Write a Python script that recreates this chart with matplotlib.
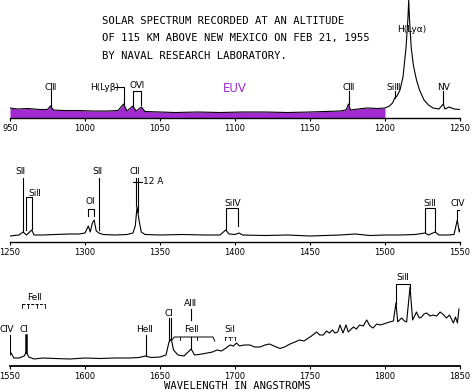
import numpy as np
import matplotlib.pyplot as plt

W, H = 472, 392

# ---- spectrum data (intensity in arbitrary units) ----
wl1 = [950, 955, 962, 970, 975, 977, 979, 985, 995, 1005,
       1015, 1022, 1025.7, 1028, 1031.9, 1034, 1037.6, 1040, 1050, 1060,
       1075, 1090, 1105, 1120, 1135, 1150, 1160, 1170, 1174, 1175.7,
       1177, 1182, 1188, 1195, 1200, 1203, 1205, 1206.5, 1208, 1210,
       1212, 1214, 1215.3, 1215.8, 1216.3, 1217.5, 1219, 1221, 1223, 1226,
       1229, 1232, 1236, 1238.8, 1240, 1242.8, 1246, 1250]
fl1 = [10, 9, 9.5, 8.5, 8.5, 12, 8, 7.5, 7.5, 7,
       7, 7.5, 14, 7, 12, 7, 11, 6.5, 6, 5.5,
       6, 5.5, 6, 6, 5.5, 6, 6.5, 7, 8, 14,
       8, 9, 10, 9.5, 10, 12, 15, 20, 22, 28,
       41, 70, 100, 118, 100, 70, 52, 38, 28, 18,
       13, 10, 9, 14, 9, 11, 9, 8.5]

wl2 = [1250, 1253, 1256, 1258.7, 1261, 1264.5, 1266, 1272, 1280, 1290,
       1296, 1300, 1302.2, 1303.5, 1304.9, 1306.1, 1307.5, 1309.3, 1312, 1320,
       1328, 1332, 1333.5, 1334.7, 1336, 1337.5, 1340, 1350, 1365, 1380,
       1390, 1393.8, 1396, 1400, 1402.8, 1405, 1420, 1435, 1450, 1460,
       1470, 1480, 1490, 1500, 1510, 1520, 1526.7, 1529, 1533.4, 1536,
       1542, 1546, 1548.2, 1549.5, 1550.8, 1552]
fl2 = [6, 6.5, 7, 10, 7, 12, 7, 7, 7.5, 8,
       8, 9, 16, 10, 19, 22, 11, 9, 7.5, 7,
       7.5, 9, 16, 35, 22, 10, 7.5, 7, 7.5, 7,
       7, 12, 8, 7.5, 9, 7, 6.5, 7, 6, 6.5,
       7, 8, 6.5, 7, 7, 7.5, 9, 7, 10, 7,
       7, 7.5, 22, 10, 16, 8]

wl3 = [1546, 1548.2, 1549.3, 1550.8, 1552.5, 1556, 1559.5, 1560.8, 1562.5, 1566,
       1572, 1580, 1590, 1600, 1610, 1620, 1630, 1636, 1640.4, 1644,
       1650, 1654, 1656, 1657.5, 1659, 1662, 1666, 1670.8, 1673, 1678,
       1685, 1688, 1691, 1694, 1696.7, 1699, 1701, 1703, 1706, 1710,
       1713, 1716.7, 1720, 1723, 1726, 1730, 1733, 1736.7, 1740, 1743,
       1746, 1748, 1751, 1754.4, 1756.5, 1758.9, 1761, 1763, 1765, 1766.7,
       1768.5, 1770, 1772, 1774, 1775.5, 1778.9, 1781, 1783, 1785.5, 1787.8,
       1790, 1792, 1794.5, 1796.7, 1799, 1801, 1803, 1805.6, 1807.3, 1808.5,
       1811, 1813, 1814.4, 1816.7, 1818.4, 1821, 1822.8, 1824.4, 1826, 1827.8,
       1830, 1832, 1834.5, 1836.7, 1838.5, 1841, 1843, 1845.6, 1847, 1848.3,
       1849.3]
fl3 = [8, 19, 9, 13, 8, 8, 10, 14, 9, 7,
       8, 7.5, 7, 8, 7.5, 8, 8, 8.5, 10, 8.5,
       9, 11, 24, 27, 16, 11, 10, 17, 11, 12,
       14, 16, 15, 18, 21, 20, 23, 20, 21, 21,
       19, 19, 21, 22, 20, 17.5, 19, 22, 24, 26,
       25, 27, 30, 34, 31, 31, 35, 33, 36, 33,
       34, 41, 33, 41, 34, 39, 37, 41, 40, 46,
       40, 38, 42, 41, 42, 43, 44, 45, 63, 44,
       48, 45, 44, 79, 46, 54, 48, 49, 52, 53,
       50, 51, 50, 54, 52, 48, 51, 43, 49, 43,
       57]

ticks1 = [950, 1000, 1050, 1100, 1150, 1200, 1250]
ticks2 = [1250, 1300, 1350, 1400, 1450, 1500, 1550]
ticks3 = [1550, 1600, 1650, 1700, 1750, 1800, 1850]

title = ["SOLAR SPECTRUM RECORDED AT AN ALTITUDE",
         "OF 115 KM ABOVE NEW MEXICO ON FEB 21, 1955",
         "BY NAVAL RESEARCH LABORATORY."]

purple = '#a32ad0'
fs = 6.5

fig = plt.figure(figsize=(W / 100, H / 100), dpi=100)


def make_ax(top, axis_y, xlim):
    # top / axis_y in pixels from the top of the figure
    ax = fig.add_axes([10 / W, 1 - axis_y / H, 450 / W, (axis_y - top) / H])
    ax.set_xlim(*xlim)
    ax.set_ylim(0, axis_y - top)
    for s in ['top', 'left', 'right']:
        ax.spines[s].set_visible(False)
    ax.spines['bottom'].set_linewidth(1.0)
    ax.set_yticks([])
    ax.tick_params(axis='x', length=2, width=0.8, pad=2, labelsize=6)
    ax.patch.set_alpha(0)
    return ax


def vline(ax, x, y0, y1, lw=0.8):
    ax.plot([x, x], [y0, y1], color='k', lw=lw)


def bracket(ax, x0, x1, top, b0, b1, ls='-'):
    ax.plot([x0, x0, x1, x1], [b0, top, top, b1], color='k', lw=0.8, ls=ls)


def label(ax, x, y, s, ha='center'):
    ax.text(x, y, s, ha=ha, va='center', fontsize=fs)


# ---------------- panel 1 ----------------
ax1 = make_ax(0, 118, (950, 1250))
ax1.set_xticks(ticks1)
x1 = np.array(wl1)
y1 = np.array(fl1)
m = x1 <= 1200
ax1.fill_between(x1[m], 0, y1[m], color=purple, lw=0)
ax1.plot(x1, y1, color='k', lw=0.8)
ax1.set_xticklabels([str(t) for t in ticks1])

label(ax1, 977, 31, "CⅢ")
vline(ax1, 977, 28, 12)
ax1.text(1013, 31, "H(Lyβ)", ha='center', va='center', fontsize=fs)
ax1.plot([1020, 1025.7, 1025.7], [31, 31, 14], color='k', lw=0.8)
label(ax1, 1035, 32, "OⅥ")
bracket(ax1, 1031.9, 1037.6, 27, 12, 13)
ax1.text(1100, 30, "EUV", color=purple, ha='center', va='center', fontsize=8.5)
label(ax1, 1175.7, 30, "CⅢ")
vline(ax1, 1175.7, 27, 14)
label(ax1, 1206, 30, "SiⅢ")
vline(ax1, 1206.5, 27, 20)
label(ax1, 1239, 30, "NⅤ")
vline(ax1, 1238.8, 27, 14)
label(ax1, 1218, 88, "H(Lyα)")

for i, line in enumerate(title):
    fig.text(102 / W, 1 - (21 + 17.5 * i) / H, line, family='DejaVu Sans Mono',
             fontsize=7.6, ha='left', va='center')

# ---------------- panel 2 ----------------
ax2 = make_ax(130, 242, (1250, 1550))
ax2.set_xticks(ticks2)
ax2.plot(wl2, fl2, color='k', lw=0.8)

label(ax2, 1257, 70, "SⅡ")
vline(ax2, 1258.7, 64, 10)
label(ax2, 1266.7, 49, "SiⅡ")
bracket(ax2, 1260.6, 1264.5, 45, 12, 13)
label(ax2, 1303.3, 40, "OⅠ")
bracket(ax2, 1302.2, 1306.1, 33, 26, 26)
label(ax2, 1308, 70, "SⅡ")
vline(ax2, 1309.5, 64, 12)
label(ax2, 1333.3, 70, "CⅡ")
vline(ax2, 1334.0, 64, 36)
vline(ax2, 1335.5, 64, 30)
ax2.plot([1331.8, 1337.8], [60, 60], color='k', lw=0.8)
ax2.text(1339, 60, "12 A", ha='left', va='center', fontsize=fs)
label(ax2, 1398.5, 39, "SiⅣ")
bracket(ax2, 1393.8, 1402.3, 34, 12, 16)
label(ax2, 1530, 39, "SiⅡ")
bracket(ax2, 1526.7, 1533.4, 34, 10, 11)
label(ax2, 1548.5, 39, "CⅣ")
bracket(ax2, 1548.2, 1550.8, 32, 23, 18)

# ---------------- panel 3 ----------------
ax3 = make_ax(262, 366, (1550, 1850))
ax3.set_xticks(ticks3)
ax3.spines['bottom'].set_linewidth(1.3)
ax3.plot(wl3, fl3, color='k', lw=0.8)

label(ax3, 1547.5, 36, "CⅣ")
vline(ax3, 1547.2, 31, 19)
vline(ax3, 1550.0, 31, 13)
label(ax3, 1559.5, 36, "CⅠ")
vline(ax3, 1560.8, 31, 14, lw=1.8)
label(ax3, 1566.5, 68, "FeⅡ")
ax3.plot([1557.8, 1573.3], [62, 62], color='k', lw=0.7, ls=(0, (3, 1.5)))
for t in [1557.8, 1562.2, 1567.8, 1573.3]:
    vline(ax3, t, 62, 58, lw=0.6)
label(ax3, 1639.5, 36, "HeⅡ")
vline(ax3, 1640.4, 31, 10)
label(ax3, 1656, 53, "CⅠ")
vline(ax3, 1655.8, 48, 25)
vline(ax3, 1657.2, 48, 27)
label(ax3, 1670, 62, "AlⅡ")
vline(ax3, 1670.8, 57, 46)
label(ax3, 1671, 36, "FeⅡ")
ax3.plot([1658, 1659.5, 1685.3, 1686.5], [26, 29, 29, 25], color='k', lw=0.7)
for t in [1663.3, 1674.7]:
    vline(ax3, t, 29, 26, lw=0.6)
vline(ax3, 1670.8, 29, 18)
label(ax3, 1696.7, 36, "SiⅠ")
ax3.plot([1693, 1700], [29, 29], color='k', lw=0.6, ls=(0, (2, 1.5)))
for t in [1693, 1696.5, 1700]:
    vline(ax3, t, 29, 26, lw=0.6)
label(ax3, 1812, 88, "SiⅡ")
bracket(ax3, 1807.5, 1816.9, 82, 62, 77)

fig.text(237 / W, 1 - 386 / H, "WAVELENGTH IN ANGSTROMS", family='DejaVu Sans Mono',
         fontsize=7.6, ha='center', va='center')

fig.savefig('out.png', dpi=100)
